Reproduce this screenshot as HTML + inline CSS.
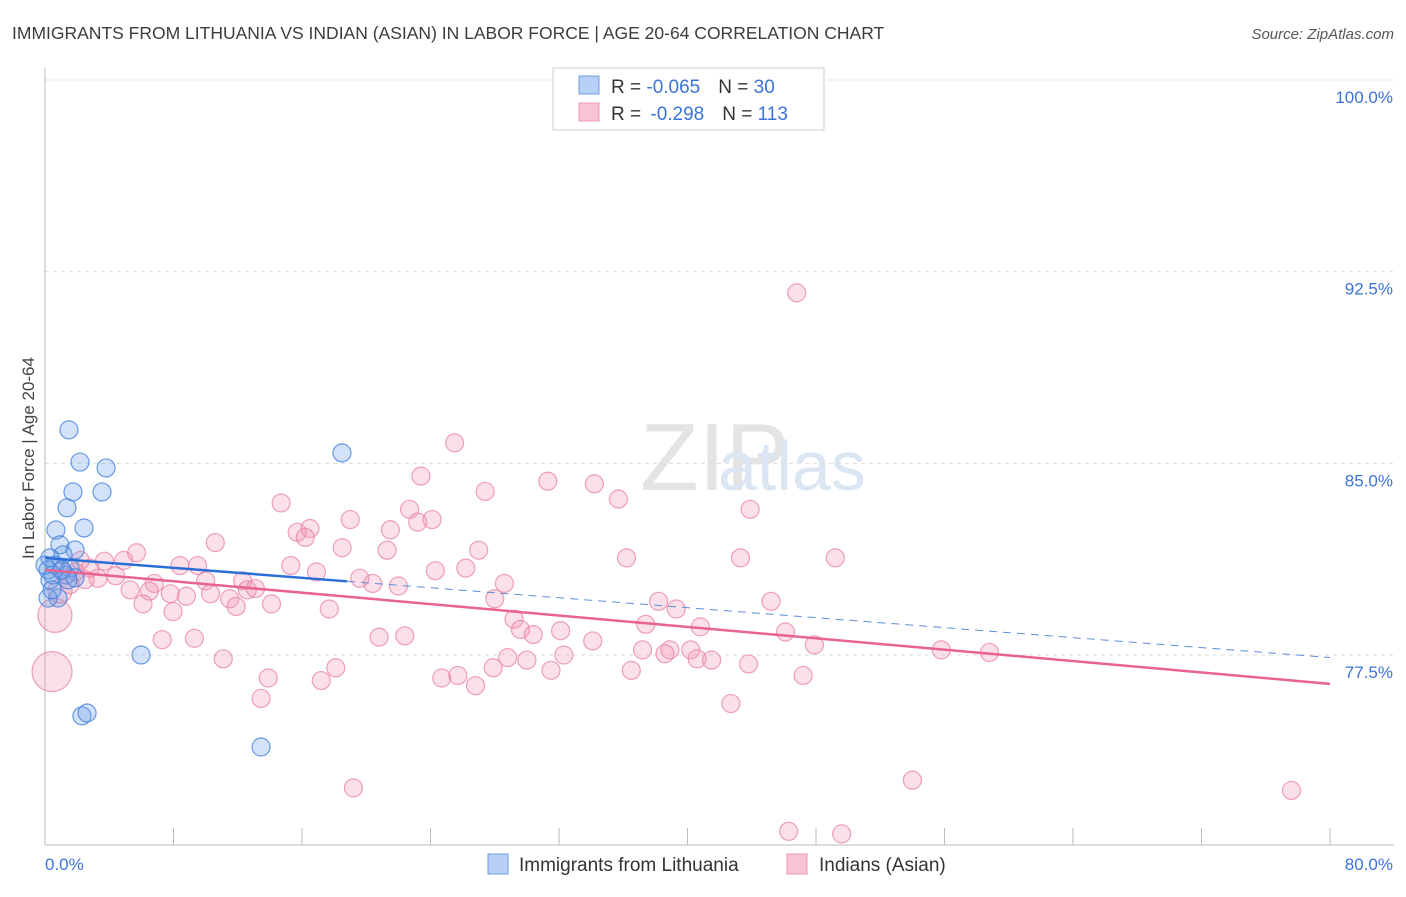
<!DOCTYPE html>
<html><head><meta charset="utf-8"><style>
body{margin:0;background:#fff;font-family:"Liberation Sans",sans-serif;}
svg text{font-family:"Liberation Sans",sans-serif;}
</style></head><body>
<svg width="1406" height="892" xmlns="http://www.w3.org/2000/svg" id="chart">
<text x="12" y="39" font-size="17.5" fill="#3d3d3d">IMMIGRANTS FROM LITHUANIA VS INDIAN (ASIAN) IN LABOR FORCE | AGE 20-64 CORRELATION CHART</text>
<text x="1394" y="39" font-size="15" fill="#555" font-style="italic" text-anchor="end">Source: ZipAtlas.com</text>
<text x="640" y="490" font-size="96" fill="#e4e4e4" font-family="Liberation Serif">ZIP</text>
<text x="718" y="490" font-size="70" fill="#dbe6f5">atlas</text>
<g id="grid"></g>
<g id="axes"></g>
<g id="pink"></g>
<g id="blue"></g>
<g id="lines"></g>
<text transform="translate(34,458) rotate(-90)" font-size="17" fill="#444" text-anchor="middle">In Labor Force | Age 20-64</text>
<text x="45" y="870" font-size="17" fill="#3b73d8">0.0%</text>
<text x="1393" y="870" font-size="17" fill="#3b73d8" text-anchor="end">80.0%</text>
<g>
<rect x="553" y="68" width="271" height="62" fill="#fff" stroke="#ccc"/>
<rect x="579" y="76" width="20" height="18" fill="#b8d0f5" stroke="#6e9ce0"/>
<rect x="579" y="103" width="20" height="18" fill="#f8c4d4" stroke="#eb98b4"/>
<text x="611" y="93" font-size="19" fill="#333">R = <tspan fill="#3b73d8">-0.065</tspan><tspan dx="18">N = </tspan><tspan fill="#3b73d8">30</tspan></text>
<text x="611" y="120" font-size="19" fill="#333">R = <tspan dx="4" fill="#3b73d8">-0.298</tspan><tspan dx="18">N = </tspan><tspan fill="#3b73d8">113</tspan></text>
</g>
<g>
<rect x="488" y="854" width="20" height="20" fill="#b8d0f5" stroke="#6e9ce0"/>
<text x="519" y="871" font-size="19" fill="#333">Immigrants from Lithuania</text>
<rect x="787" y="854" width="20" height="20" fill="#f8c4d4" stroke="#eb98b4"/>
<text x="819" y="871" font-size="19" fill="#333">Indians (Asian)</text>
</g>
</svg>
<script>
const yTicks=[100,92.5,85,77.5];
const yTickLabels=["100.0%","92.5%","85.0%","77.5%"];
const xTicks=[0,8,16,24,32,40,48,56,64,72,80];
const blueX=[1.49,2.18,3.80,1.74,3.55,1.37,2.43,0.68,0.93,1.87,1.12,0.31,0.62,1.56,0.19,1.31,1.87,0.31,0.81,0.19,5.98,2.30,2.62,13.45,18.49,0.5,1.06,0.0,1.43,0.44];
const blueY=[86.31,85.05,84.82,83.88,83.88,83.26,82.47,82.39,81.81,81.61,81.42,81.30,81.02,80.91,80.83,80.63,80.52,80.44,79.73,79.73,77.50,75.12,75.23,73.90,85.41,80.63,80.83,81.02,80.44,80.05];
const pinkX=[46.8,25.5,23.4,27.4,31.3,34.2,35.7,14.7,22.7,43.9,19.0,24.1,23.2,15.7,16.5,16.2,21.5,10.6,18.5,27.0,21.3,5.7,36.2,43.3,49.2,4.9,8.4,9.5,15.3,24.3,26.2,16.9,3.7,2.8,4.4,2.2,1.9,3.3,10.0,12.3,6.8,19.6,20.4,22.0,28.6,5.3,6.5,8.8,7.8,10.3,11.5,12.6,13.1,6.1,14.1,11.9,7.97,17.7,28.0,38.2,39.3,45.2,29.2,29.6,30.4,32.1,37.4,40.8,46.1,7.3,9.3,20.8,22.4,34.1,37.2,38.9,40.2,47.9,55.8,58.8,11.1,28.8,30.0,32.3,38.6,40.6,41.5,43.8,18.1,27.9,31.5,36.5,13.9,17.2,24.7,25.7,26.8,47.2,13.45,42.7,19.2,54.0,77.6,46.3,49.6,0.44,0.62,0.93,1.56,2.49,1.0];
const pinkY=[91.67,85.8,84.5,83.9,84.3,84.2,83.6,83.45,83.2,83.2,82.8,82.8,82.7,82.3,82.45,82.1,82.4,81.9,81.7,81.6,81.6,81.5,81.3,81.3,81.3,81.2,81.0,81.0,81.0,80.8,80.9,80.75,81.17,80.9,80.6,81.2,80.75,80.5,80.4,80.4,80.3,80.5,80.3,80.2,80.3,80.05,80.0,79.8,79.9,79.9,79.7,80.05,80.1,79.5,79.5,79.4,79.2,79.3,79.7,79.6,79.3,79.6,78.9,78.5,78.3,78.45,78.7,78.6,78.4,78.1,78.15,78.2,78.25,78.05,77.7,77.7,77.7,77.9,77.7,77.6,77.35,77.4,77.3,77.5,77.55,77.35,77.3,77.15,77.0,77.0,76.9,76.9,76.6,76.5,76.6,76.7,76.3,76.7,75.8,75.6,72.3,72.6,72.2,70.6,70.5,76.85,79.05,80.0,80.25,80.45,80.8];
const pinkR=[];for(let i=0;i<pinkX.length;i++)pinkR.push(9);
pinkR[105]=20;pinkR[106]=17;pinkR[107]=12;
const blueLine=[81.3,77.4];const blueSolidEnd=18.8;
const pinkLine=[80.83,76.37];
const NS="http://www.w3.org/2000/svg";
const X=v=>45+v*(1285/80);
const Y=v=>80+(100-v)*(575/22.5);
function mk(tag,attrs,parent){const e=document.createElementNS(NS,tag);for(const k in attrs)e.setAttribute(k,attrs[k]);document.getElementById(parent).appendChild(e);return e;}
yTicks.forEach((t,i)=>{
 const l=mk('line',{x1:45,x2:1394,y1:Y(t),y2:Y(t),stroke:'#ddd','stroke-dasharray':'4,4'},'grid');
 
 
 const tx=mk('text',{x:1393,y:Y(t)+23,'font-size':17,fill:'#3b73d8','text-anchor':'end'},'grid');
 tx.textContent=yTickLabels[i];
 
 
});
const ax=mk('line',{x1:45,x2:45,y1:68,y2:845,stroke:'#bbb'},'axes');


const bx=mk('line',{x1:45,x2:1394,y1:845,y2:845,stroke:'#bbb'},'axes');


xTicks.forEach(t=>{const l=mk('line',{x1:X(t),x2:X(t),y1:828,y2:845,stroke:'#bbb'},'axes');
 
 });
pinkX.forEach((v,i)=>{const c=mk('circle',{cx:X(v),cy:Y(pinkY[i]),r:pinkR[i],fill:'rgba(242,150,182,0.3)',stroke:'rgba(232,130,165,0.75)','stroke-width':1.2},'pink');
 
 });
blueX.forEach((v,i)=>{const c=mk('circle',{cx:X(v),cy:Y(blueY[i]),r:9,fill:'rgba(110,160,232,0.3)',stroke:'rgba(70,130,220,0.8)','stroke-width':1.2},'blue');
 
 });
const bAt=x=>blueLine[0]+(blueLine[1]-blueLine[0])*x/80;
const l1=mk('line',{x1:X(0),y1:Y(bAt(0)),x2:X(blueSolidEnd),y2:Y(bAt(blueSolidEnd)),stroke:'#2a6fd6','stroke-width':2.5},'lines');


const l2=mk('line',{x1:X(blueSolidEnd),y1:Y(bAt(blueSolidEnd)),x2:X(80),y2:Y(bAt(80)),stroke:'#5a8fd8','stroke-width':1,'stroke-dasharray':'8,6'},'lines');


const l3=mk('line',{x1:X(0),y1:Y(pinkLine[0]),x2:X(80),y2:Y(pinkLine[1]),stroke:'#e8638f','stroke-width':2.5},'lines');


</script>
</body></html>
